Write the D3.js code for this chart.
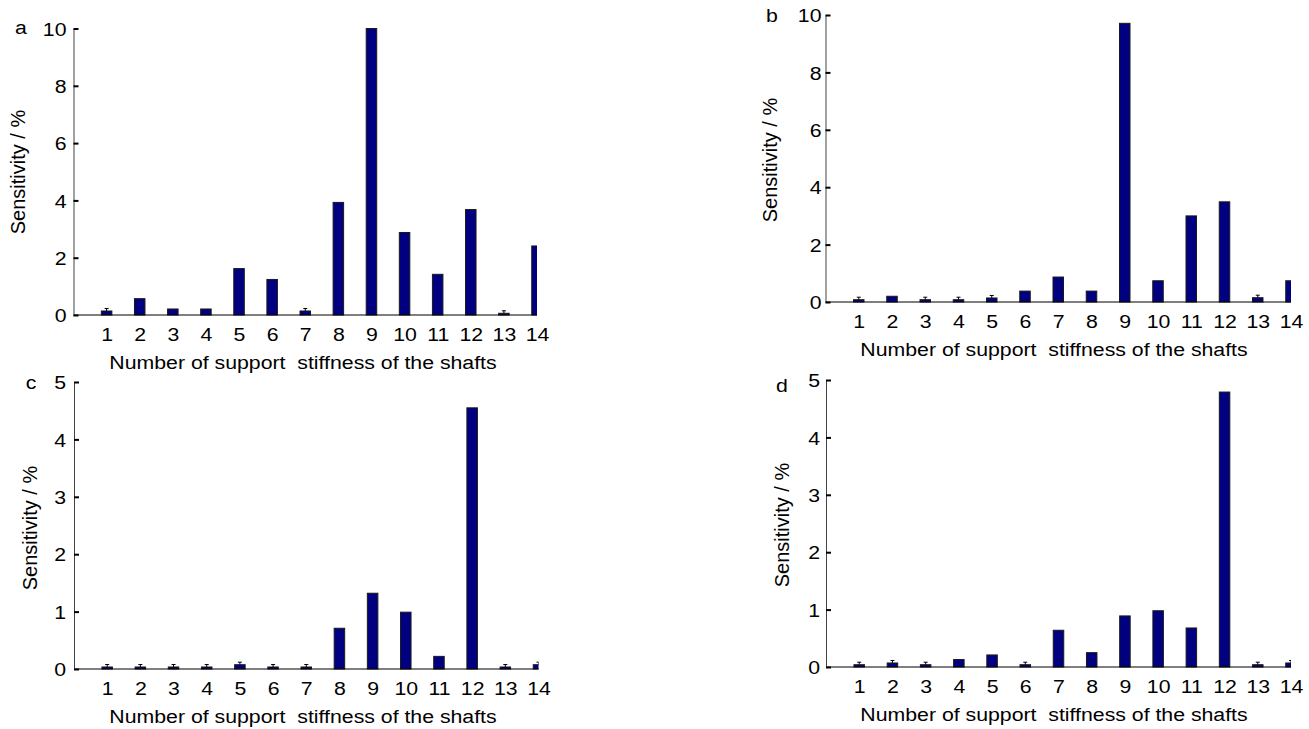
<!DOCTYPE html>
<html>
<head>
<meta charset="utf-8">
<script src="https://cdn.jsdelivr.net/npm/d3@7/dist/d3.min.js"></script>
<style>
  body { margin: 0; background: #fff; }
  svg { display: block; }
  text { font-family: "Liberation Sans", Arial, sans-serif; fill: #000; }
</style>
</head>
<body>
<svg id="chart" width="1309" height="729"></svg>
<script>
// support stiffness numbers 1..14
var categories = [1, 2, 3, 4, 5, 6, 7, 8, 9, 10, 11, 12, 13, 14];

// sensitivity (%)
var sensA = [0.14, 0.57, 0.21, 0.21, 1.62, 1.24, 0.14, 3.93, 10.0, 2.88, 1.42, 3.68, 0.06, 2.41];
var sensB = [0.08, 0.20, 0.08, 0.08, 0.14, 0.38, 0.87, 0.38, 9.71, 0.74, 3.00, 3.49, 0.15, 0.74];
var sensC = [0.035, 0.035, 0.035, 0.035, 0.075, 0.035, 0.035, 0.71, 1.32, 0.99, 0.22, 4.55, 0.035, 0.075];
var sensD = [0.04, 0.07, 0.04, 0.13, 0.21, 0.04, 0.64, 0.25, 0.89, 0.98, 0.68, 4.79, 0.04, 0.07];

var ticksTen = [0, 2, 4, 6, 8, 10];
var ticksFive = [0, 1, 2, 3, 4, 5];

var xTitle = "Number of support  stiffness of the shafts";
var yTitle = "Sensitivity / %";

var svg = d3.select("#chart");
var FS = 19, SX = 1.12;

function drawPanel(p) {
  var x = d3.scaleLinear().domain([0, 14]).range([p.left, p.right]);
  var y = d3.scaleLinear().domain([0, p.ticks[p.ticks.length - 1]]).range([p.bottom, p.top]);
  var g = svg.append("g");

  var clipId = "clip-" + p.name;
  g.append("clipPath").attr("id", clipId)
    .append("rect").attr("x", p.left).attr("y", p.top - 10)
    .attr("width", p.right - p.left).attr("height", p.bottom - p.top + 12);

  // bars
  var bw = 10.5;
  var rows = categories.map(function(c, i) { return { c: c, v: p.values[i] }; });
  var plot = g.append("g").attr("clip-path", "url(#" + clipId + ")");
  plot.selectAll("rect.bar").data(rows).enter().append("rect")
    .attr("class", "bar")
    .attr("x", function(d) { return x(d.c) - bw / 2; })
    .attr("y", function(d) { return y(d.v); })
    .attr("width", bw)
    .attr("height", function(d) { return y(0) - y(d.v); })
    .attr("fill", "#000080")
    .attr("stroke", "#1a1a1a")
    .attr("stroke-width", 1);

  // little caps on the tiniest bars
  var lim = y.domain()[1] * 0.016;
  var small = rows.filter(function(d) { return d.v < lim; });
  plot.selectAll("path.cap").data(small).enter().append("path")
    .attr("class", "cap")
    .attr("d", function(d) {
      var cx = x(d.c), ty = y(d.v);
      return "M" + cx + "," + ty + "V" + (ty - 2.5) + "M" + (cx - 2) + "," + (ty - 2.5) + "H" + (cx + 2);
    })
    .attr("stroke", "#000").attr("stroke-width", 1).attr("fill", "none");

  // x axis line
  g.append("line").attr("x1", p.left).attr("x2", p.right)
    .attr("y1", y(0)).attr("y2", y(0)).attr("stroke", "#000").attr("stroke-width", 1.2);

  // y axis
  var yAxis = d3.axisLeft(y).tickValues(p.ticks).tickSize(0).tickPadding(0);
  var ya = g.append("g").attr("transform", "translate(" + p.left + ",0)").call(yAxis);
  ya.select(".domain").attr("stroke", "#444").attr("stroke-width", 1);
  ya.selectAll(".tick text").remove();
  ya.selectAll(".tick").append("line").attr("x1", 0).attr("x2", 5)
    .attr("stroke", "#000").attr("stroke-width", 2);
  ya.selectAll(".tick").append("text")
    .attr("text-anchor", "end")
    .attr("dy", "0.35em")
    .attr("transform", "translate(" + (-p.labelGap) + ",0) scale(" + SX + ",1)")
    .style("font-size", FS + "px")
    .text(function(d) { return d; });

  // x tick labels
  var xAxis = d3.axisBottom(x).tickValues(categories).tickSize(0).tickPadding(0);
  var xa = g.append("g").attr("transform", "translate(0," + (y(0) + 19.5) + ")").call(xAxis);
  xa.select(".domain").remove();
  xa.selectAll(".tick text").remove();
  xa.selectAll(".tick").append("text")
    .attr("text-anchor", "middle").attr("dy", "0.35em")
    .attr("transform", "scale(" + SX + ",1)")
    .style("font-size", FS + "px")
    .text(function(d) { return d; });

  // titles
  g.append("text")
    .attr("transform", "translate(" + p.titleX + "," + (y(0) + 47) + ") scale(" + SX + ",1)")
    .attr("text-anchor", "middle").attr("dy", "0.35em")
    .style("font-size", FS + "px").style("white-space", "pre")
    .text(xTitle);

  g.append("text")
    .attr("transform", "translate(" + p.yTitleX + "," + p.yTitleY + ") rotate(-90)")
    .attr("text-anchor", "middle").attr("dy", "0.35em")
    .style("font-size", "20px")
    .text(yTitle);

  g.append("text")
    .attr("transform", "translate(" + p.tagX + "," + p.tagY + ") scale(" + SX + ",1)")
    .attr("text-anchor", "middle").attr("dy", "0.35em")
    .style("font-size", FS + "px")
    .text(p.name);
}

drawPanel({ name: "a", values: sensA, ticks: ticksTen, left: 73.5, right: 537, top: 28.5, bottom: 315,
  labelGap: 7, titleX: 303, yTitleX: 18, yTitleY: 172, tagX: 21, tagY: 27 });
drawPanel({ name: "b", values: sensB, ticks: ticksTen, left: 825.5, right: 1291, top: 15, bottom: 302,
  labelGap: 4, titleX: 1054, yTitleX: 770, yTitleY: 160, tagX: 772, tagY: 15 });
drawPanel({ name: "c", values: sensC, ticks: ticksFive, left: 74, right: 538.5, top: 382, bottom: 669,
  labelGap: 8, titleX: 303, yTitleX: 30, yTitleY: 528, tagX: 31, tagY: 382 });
drawPanel({ name: "d", values: sensD, ticks: ticksFive, left: 826, right: 1291, top: 380, bottom: 667,
  labelGap: 6, titleX: 1054, yTitleX: 782, yTitleY: 525, tagX: 782, tagY: 385 });
</script>
</body>
</html>
